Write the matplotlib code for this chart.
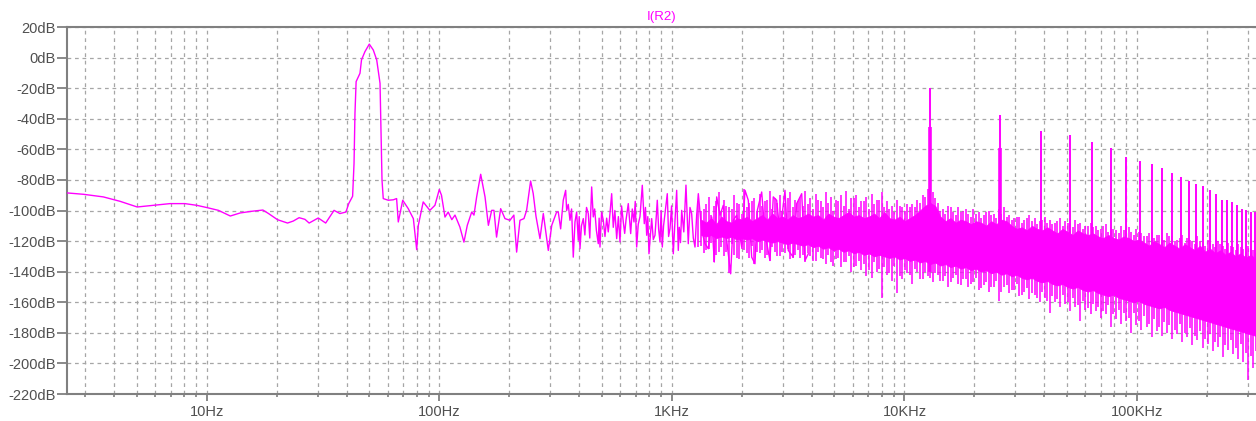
import numpy as np
import matplotlib
matplotlib.use("Agg")
import matplotlib.pyplot as plt
from matplotlib.ticker import FixedLocator, LogLocator, NullFormatter

# ---------------- data ----------------
trace_freq = [2.5, 2.94, 3.58, 4.23, 5.01, 5.88, 6.93, 8.04, 9.03, 10.0, 11.2, 12.6, 13.9, 15.6,
              17.4, 18.4, 20.1, 22.2, 23.5, 24.9, 26.4, 27.5, 30.1, 32.4, 35.2, 37.3, 39.6, 40.7,
              42.3, 42.9, 43.3, 43.8, 45.5, 46.2, 47.8, 49.9, 51.9, 53.7, 55.5, 56.0, 56.6, 57.3,
              60.2, 63.3, 65.4, 66.5, 69.5, 73.4, 77.2, 79.8, 81.1, 85.1, 90.9, 95.6, 99.8, 102,
              105.6, 109, 113, 116.6, 122.4, 127.4, 131.7, 137.6, 140.7, 144.5, 150.4, 157, 162.3,
              167.7, 171.5, 176, 183.3, 191.3, 201, 208.9, 214.7, 221.9, 230.9, 237, 246.6, 253,
              260, 270.5, 279.6, 293.8, 304, 319,
              324.3, 332, 340.7, 348.9, 352.4, 358, 364.1, 370, 376.2, 382.6, 389, 395.4, 399,
              402.1, 408, 415.5, 422, 429, 436.5, 443, 451.4, 458.6, 465, 473, 481.9, 486, 490.1,
              498, 506.4, 515, 523.7, 532, 541.1, 550.3, 559.1, 568, 578.3, 588, 597.5, 607,
              617.4, 626, 634.1, 648.7, 664.3, 675, 686.4, 695, 704.9, 716, 728.4, 745.2, 760.2,
              769, 778.4, 787, 796.2, 817.9, 831, 845.1, 855, 864.5, 876, 888.1, 898, 908.5, 920,
              933.1, 954.6, 967, 980.4, 996, 1013, 1030, 1047.6, 1064.4, 1075, 1088, 1101, 1124,
              1148.6, 1175, 1195, 1215, 1235, 1256, 1277, 1298,
              1342, 1387, 1433, 1482, 1520, 1557, 1609, 1662, 1719, 1788, 1834,
              1898, 1994, 2061, 2129, 2202, 2275, 2328, 2431, 2512, 2639, 2727, 2820, 2914, 3062,
              3164, 3325, 3439, 3613, 3733, 3857]
trace_db = [-88.5, -89.4, -91.1, -94.0, -97.7, -96.6, -95.5, -95.5, -96.6, -98.1, -99.9, -103.6,
            -101.6, -100.5, -99.7, -102.0, -106.0, -108.2, -106.9, -104.7, -105.8, -108.2, -104.9,
            -108.2, -99.9, -102.0, -101.0, -95.5,
            -90.7, -69.3, -36.5, -15.7, -10.3, -1.5, 3.9, 8.8, 5.0, -1.5, -16.8, -47.4, -80.2, -92.2,
            -93.3, -93.0, -92.2, -107.5, -93.3, -98.8, -105.3, -125.6, -109.7, -94.4, -99.9, -96.6,
            -86.3, -90.0, -104.3, -101.0, -106.0, -103.0, -110.8, -120.7, -109.7, -101.0, -103.0,
            -91.1, -76.3, -91.1, -109.7, -99.9, -99.9, -117.4, -98.8, -105.3, -106.4, -103.0, -127.2,
            -106.4, -105.3, -99.9, -80.7, -88.9, -103.7, -118.4, -102.0, -126.1, -109.7, -101.0,
            -101.0, -112, -93.3, -86.8, -100.0, -96, -106.4, -99, -130.5, -107.5, -101, -119.5,
            -104, -125.0, -110, -105.3, -116, -98, -102.0, -118, -84.6, -104.2, -99, -113, -121.7,
            -105, -123.9, -101, -106.4, -117, -105.0, -114, -102.0, -89.0, -111.0, -100, -118.4,
            -104, -120.6, -97, -107.5, -115, -106.4, -95.5, -115.1, -99, -107.5, -94, -123.9,
            -109, -104.0, -83.5, -108.6, -98, -116.2, -104, -128.3, -105.3, -119, -116.2, -105,
            -93.3, -112, -120.6, -100, -123.9, -110, -102.0, -89.0, -117, -111.9, -97, -128.3,
            -107, -86.8, -126.1, -111.0, -121, -99.9, -114, -83.4, -121.7, -98, -102.0, -118,
            -123.9, -103, -89.0,
            -113.0, -121.7, -125.0, -104.2, -133.7, -91.1, -103.1, -96.6, -119.5, -141.4, -106.4,
            -103.1, -123.9, -86.8, -93.3, -130.5, -134.8, -99.9, -87.9, -115.1, -132.7, -91.1,
            -93.3, -115.1, -86.8, -126.1, -130.5, -95.5, -89.0, -132.7, -128.3]

# dense noise band, 1.3 kHz .. 325 kHz: spike tops / spike bottoms and the solid core
band_start_hz, band_stop_hz = 1300, 325000
band_peak_db = [-94, -99, -91, -97, -88, -93, -98, -90, -96, -86, -95, -92,
                -89, -94, -87, -92, -90, -95, -88, -93, -91,
                -87, -92, -89, -94, -88, -91, -93, -90, -87, -92,
                -90, -94, -91, -89, -93, -88,
                -94, -97, -93, -98, -96,
                -96, -93, -90, -86, -88,
                -95, -99, -97, -101, -98, -100,
                -102, -99, -101, -103, -100, -102, -99, -98,
                -103, -105, -104, -106, -103, -105, -107, -104,
                -106, -108, -105, -107, -109, -106, -108, -110,
                -108, -110, -112, -109, -111, -113, -110, -112,
                -114, -112, -115, -117, -114, -116, -118, -115,
                -117, -119, -116, -118, -120, -117, -121, -119,
                -122, -120, -123, -121, -124, -122, -125, -123, -126]
band_peak2_db = [-100, -96, -103, -94, -101, -97, -99, -95, -102, -98, -94, -100,
                 -97, -93, -99, -95, -100, -92, -98, -94, -97,
                 -96, -99, -93, -98, -95, -100, -94, -97, -99, -92,
                 -98, -94, -99, -96, -93, -98,
                 -99, -101, -97, -100, -98,
                 -98, -95, -91, -88, -92,
                 -100, -102, -98, -103, -101, -99,
                 -104, -102, -105, -101, -103, -105, -102, -104,
                 -106, -104, -108, -105, -107, -109, -106, -108,
                 -109, -107, -110, -108, -111, -109, -112, -110,
                 -111, -113, -110, -114, -112, -115, -113, -111,
                 -116, -114, -117, -115, -118, -116, -119, -117,
                 -120, -118, -121, -119, -122, -120, -123, -121,
                 -124, -122, -125, -123, -126, -124, -127, -125, -128]
band_valley_db = [-106, -108, -105, -109, -104, -107, -108, -105, -106, -104, -107, -105,
                  -103, -106, -102, -105, -104, -106, -103, -105, -104,
                  -102, -104, -103, -106, -102, -104, -105, -103, -101, -104,
                  -103, -105, -104, -102, -105, -101,
                  -105, -106, -104, -107, -105,
                  -103, -100, -97, -95, -97,
                  -104, -107, -105, -108, -106, -107,
                  -109, -107, -108, -110, -107, -109, -106, -107,
                  -110, -112, -111, -113, -110, -112, -113, -111,
                  -113, -115, -112, -114, -116, -113, -115, -116,
                  -115, -117, -118, -116, -118, -119, -117, -118,
                  -120, -119, -121, -123, -120, -122, -124, -121,
                  -123, -125, -122, -124, -126, -123, -127, -125,
                  -128, -126, -129, -127, -130, -128, -131, -129, -132]
band_trough_db = [-124, -128, -125, -134, -127, -130, -141, -129, -132, -126, -131, -135,
                  -128, -131, -133, -127, -130, -128, -132, -129, -131, -134, -130, -133,
                  -131, -135, -134, -132, -137, -134, -140, -136, -139, -143, -144, -140,
                  -157, -142, -146, -154, -145, -141, -148, -140, -145, -143, -147, -142,
                  -146, -150, -144, -148, -145, -150, -147, -152, -149, -153, -150, -159,
                  -150, -154, -152, -156, -153, -158, -155, -160, -157, -167, -160, -163,
                  -161, -166, -163, -172, -165, -168, -166, -170, -168, -176, -171, -174,
                  -172, -180, -175, -178, -176, -183, -179, -182, -180, -184, -181, -186,
                  -183, -188, -185, -190, -187, -192, -189, -196, -191, -194, -197, -199,
                  -211, -203]
band_trough2_db = [-123, -126, -121, -129, -124, -127, -122, -131, -125, -128, -123, -127,
                   -126, -129, -124, -130, -127, -125, -131, -126, -129, -128, -133, -127,
                   -132, -129, -136, -131, -134, -130, -137, -133, -135, -139, -134, -138,
                   -137, -141, -136, -143, -139, -142, -138, -145, -140, -144, -141, -146,
                   -143, -147, -142, -149, -145, -148, -144, -151, -147, -150, -146, -153,
                   -149, -152, -148, -155, -151, -154, -157, -153, -159, -156, -158, -155,
                   -160, -157, -162, -159, -164, -161, -163, -166, -162, -168, -165, -167,
                   -170, -167, -172, -169, -174, -171, -176, -173, -175, -178, -174, -180,
                   -177, -182, -179, -184, -181, -186, -183, -188, -185, -190, -187, -193,
                   -195, -192]
band_base_db = [-116, -117, -116, -118, -117, -118, -117, -119, -118, -119, -118, -120,
                -119, -120, -121, -120, -121, -122, -121, -122, -123, -122, -124, -123,
                -125, -124, -126, -125, -127, -126, -128, -127, -129, -128, -130, -129,
                -130, -131, -130, -132, -131, -133, -132, -134, -133, -135, -134, -136,
                -135, -137, -136, -138, -137, -139, -138, -140, -139, -141, -140, -142,
                -141, -143, -142, -144, -145, -144, -146, -147, -146, -148, -149, -148,
                -150, -151, -150, -152, -153, -152, -154, -155, -156, -155, -157, -158,
                -159, -160, -159, -161, -162, -163, -164, -163, -165, -166, -167, -168,
                -169, -170, -171, -172, -173, -174, -175, -176, -177, -178, -179, -180,
                -181, -182]

# switching harmonics (multiples of ~12.85 kHz)
harm_fund_hz = 12850
harm_db = [-20.1, -37.6, -48.1, -50.7, -55.1, -59.4, -64.9, -67.7, -69.3, -71.9, -75.4, -78.4,
           -80.6, -82.4, -83.7, -86.8, -88.9, -92.9, -93.3, -94.4, -96.6, -98.8, -99.9, -101.0,
           -101.0]
harm_thick_db = [-45.2, -59.4]

x_ticks = [10, 100, 1000, 10000, 100000]
x_labels = ["10Hz", "100Hz", "1KHz", "10KHz", "100KHz"]
y_ticks = list(range(-220, 21, 20))

# ---------------- figure ----------------
MAG = "#ff00ff"
GRID = "#a6a6a6"
AX = "#808080"
TXT = "#505050"

plt.rcParams["font.family"] = ["Liberation Sans", "DejaVu Sans"]
fig = plt.figure(figsize=(12.56, 4.21), dpi=100)
ax = fig.add_axes([67 / 1256, 1 - 394 / 421, (1256 - 67) / 1256, (394 - 27) / 421])
ax.set_xscale("log")
ax.set_xlim(2.5, 325000)
ax.set_ylim(-220, 20)

# band
n = len(band_peak_db)
band_grid = np.geomspace(band_start_hz, band_stop_hz, 2 * n)
f_peak = band_grid[0::2]
f_valley = band_grid[1::2]
ax.fill_between(f_valley, band_base_db, band_valley_db, color=MAG, lw=0.6, zorder=3)
ax.vlines(f_peak, band_trough_db, band_peak_db, color=MAG, lw=1.1, zorder=3)
ax.vlines(f_valley, band_trough2_db, band_peak2_db, color=MAG, lw=1.1, zorder=3)

# trace
ax.plot(trace_freq, trace_db, color=MAG, lw=1.0, zorder=4)

# harmonics
hf = harm_fund_hz * np.arange(1, len(harm_db) + 1)
ax.vlines(hf, -140, harm_db, color=MAG, lw=1.4, zorder=4)
ax.vlines(hf[:len(harm_thick_db)], -140, harm_thick_db, color=MAG, lw=2.6, zorder=4)

# axes style
for s in ["left", "top", "bottom"]:
    ax.spines[s].set_color(AX)
    ax.spines[s].set_linewidth(1.5)
ax.spines["right"].set_visible(False)

ax.xaxis.set_major_locator(FixedLocator(x_ticks))
ax.set_xticklabels(x_labels)
ax.xaxis.set_minor_locator(LogLocator(base=10, subs=range(2, 10), numticks=20))
ax.xaxis.set_minor_formatter(NullFormatter())
ax.set_yticks(y_ticks)
ax.set_yticklabels([f"{v}dB" for v in y_ticks])

ax.tick_params(axis="y", which="major", length=7.2, width=1.3, color=AX, labelcolor=TXT,
               labelsize=10.5, pad=1)
ax.tick_params(axis="x", which="major", length=5, width=1.3, color=AX, labelcolor=TXT,
               labelsize=10.5, pad=3)
ax.tick_params(axis="x", which="minor", length=2.5, width=1.2, color=AX)

ax.grid(True, which="major", axis="both", color=GRID, lw=0.9, linestyle=(0, (3, 3)))
ax.grid(True, which="minor", axis="x", color=GRID, lw=0.9, linestyle=(0, (3, 3)))
ax.set_axisbelow(True)

ax.set_title("I(R2)", color=MAG, fontsize=9.5, pad=5)

fig.savefig("out.png", dpi=100)
